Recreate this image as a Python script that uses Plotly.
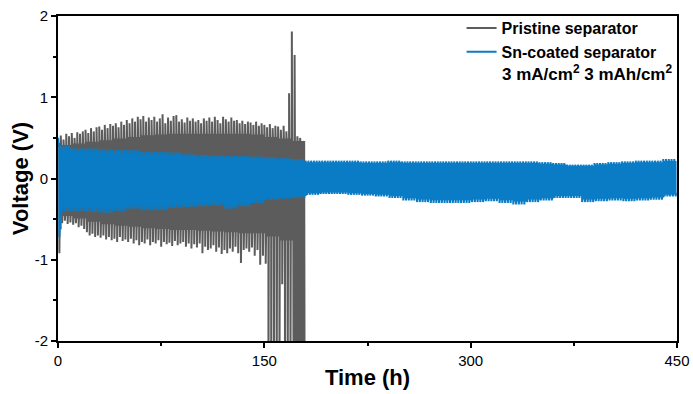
import numpy as np
import plotly.graph_objects as go

# ---------------- data ----------------
CYCLE_H = 2.0  # one charge + discharge cycle, hours

# Pristine separator: per-cycle peak voltages (cycle i starts at 2*i h)
pristine_up_peak = [
    0.50, 0.53, 0.48, 0.55, 0.52, 0.56, 0.50, 0.57, 0.55, 0.58,
    0.60, 0.56, 0.62, 0.58, 0.63, 0.64, 0.60, 0.66, 0.62, 0.67,
    0.65, 0.68, 0.63, 0.70, 0.66, 0.72, 0.68, 0.74, 0.70, 0.76,
    0.73, 0.77, 0.70, 0.75, 0.72, 0.76, 0.70, 0.74, 0.79, 0.68,
    0.75, 0.71, 0.77, 0.78, 0.70, 0.73, 0.69, 0.75, 0.71, 0.74,
    0.70, 0.72, 0.68, 0.74, 0.71, 0.75, 0.70, 0.76, 0.72, 0.68,
    0.76, 0.73, 0.70, 0.75, 0.71, 0.72, 0.68, 0.71, 0.67, 0.70,
    0.69, 0.66, 0.70, 0.65, 0.68, 0.66, 0.63, 0.67, 0.62, 0.65,
    0.64, 0.60, 0.65, 0.58, 1.05, 1.81, 1.52, 0.52, 0.50, 0.46,
]
pristine_dn_peak = [
    -0.92, -0.55, -0.52, -0.56, -0.54, -0.57, -0.55, -0.60, -0.58, -0.62,
    -0.66, -0.70, -0.68, -0.72, -0.70, -0.73, -0.70, -0.75, -0.72, -0.76,
    -0.74, -0.78, -0.72, -0.77, -0.75, -0.78, -0.74, -0.80, -0.76, -0.82,
    -0.78, -0.80, -0.75, -0.82, -0.78, -0.80, -0.76, -0.84, -0.78, -0.81,
    -0.79, -0.83, -0.77, -0.82, -0.80, -0.78, -0.84, -0.80, -0.86, -0.81,
    -0.85, -0.80, -0.92, -0.84, -0.88, -0.86, -0.82, -0.90, -0.85, -0.93,
    -0.88, -0.92, -0.86, -0.90, -0.84, -0.92, -1.04, -0.88, -0.86, -0.90,
    -0.85, -0.95, -0.88, -1.06, -0.95, -1.05, -2.50, -2.50, -2.50, -2.50,
    -2.50, -1.30, -2.50, -2.50, -2.50, -2.50, -2.50, -2.50, -2.50, -2.50,
]
# Pristine plateau levels, one value per 10 h block (0-170 h)
pristine_up_plateau = [0.40, 0.42, 0.44, 0.46, 0.48, 0.50, 0.52, 0.53, 0.54,
                       0.54, 0.54, 0.54, 0.54, 0.54, 0.53, 0.50, 0.48, 0.45]
pristine_dn_plateau = [-0.45, -0.48, -0.52, -0.55, -0.57, -0.58, -0.60, -0.61, -0.62,
                       -0.62, -0.63, -0.64, -0.65, -0.66, -0.66, -0.70, -0.75, -2.50]

# Sn-coated separator: peak voltages, one value per 10 h block (0-440 h)
sn_up_peak = [0.40, 0.37, 0.37, 0.36, 0.35, 0.35, 0.33, 0.33, 0.32, 0.30,
              0.29, 0.28, 0.28, 0.28, 0.27, 0.26, 0.25, 0.24, 0.22, 0.22,
              0.22, 0.22, 0.21, 0.21, 0.22, 0.21, 0.21, 0.21, 0.21, 0.21,
              0.21, 0.21, 0.21, 0.21, 0.21, 0.20, 0.19, 0.17, 0.17, 0.19,
              0.20, 0.21, 0.22, 0.22, 0.24]
sn_dn_peak = [-0.40, -0.40, -0.41, -0.42, -0.40, -0.37, -0.39, -0.39, -0.36, -0.35,
              -0.34, -0.33, -0.37, -0.34, -0.30, -0.26, -0.25, -0.24, -0.20, -0.19,
              -0.19, -0.20, -0.21, -0.22, -0.24, -0.27, -0.29, -0.30, -0.30, -0.30,
              -0.29, -0.28, -0.30, -0.32, -0.29, -0.27, -0.24, -0.24, -0.29, -0.28,
              -0.27, -0.28, -0.27, -0.26, -0.22]
sn_first_cycle = [0.50, -0.72]   # first-cycle overshoot
sn_plateau_ratio = 0.85

x_tickvals = [0, 150, 300, 450]
x_ticktext = ["0", "150", "300", "450"]
y_tickvals = [-2, -1, 0, 1, 2]
y_ticktext = ["-2", "-1", "0", "1", "2"]

# ---------------- build waveforms ----------------
def waveform(up_peak, up_plat, dn_peak, dn_plat):
    t, v = [], []
    for i in range(len(up_peak)):
        t0 = i * CYCLE_H
        t += [t0, t0 + 0.25, t0 + 0.95, t0 + 1.0, t0 + 1.25, t0 + 1.95]
        v += [up_peak[i], up_plat[i], up_plat[i], dn_peak[i], dn_plat[i], dn_plat[i]]
    return t, v

per_block = int(10 / CYCLE_H)
p_up_plat = np.minimum(np.repeat(pristine_up_plateau, per_block)[:len(pristine_up_peak)],
                       np.array(pristine_up_peak))
p_dn_plat = np.maximum(np.repeat(pristine_dn_plateau, per_block)[:len(pristine_dn_peak)],
                       np.array(pristine_dn_peak))
p_t, p_v = waveform(pristine_up_peak, p_up_plat, pristine_dn_peak, p_dn_plat)

s_up = np.repeat(sn_up_peak, per_block).astype(float)
s_dn = np.repeat(sn_dn_peak, per_block).astype(float)
s_up[0], s_dn[0] = sn_first_cycle
s_t, s_v = waveform(s_up, s_up * sn_plateau_ratio, s_dn, s_dn * sn_plateau_ratio)

GRAY = "#5c5c5c"
BLUE = "#0a7cc6"
FONT = "Liberation Sans, Arial, sans-serif"

fig = go.Figure()
fig.add_trace(go.Scatter(x=p_t, y=p_v, mode="lines", name="<b>Pristine separator</b>",
                         line=dict(color=GRAY, width=2)))
fig.add_trace(go.Scatter(x=s_t, y=s_v, mode="lines", name="<b>Sn-coated separator</b>",
                         line=dict(color=BLUE, width=2)))

axis_common = dict(showline=True, linecolor="black", linewidth=2, mirror=True,
                   ticks="outside", ticklen=5, tickwidth=2, tickcolor="black",
                   showgrid=False, zeroline=False, automargin=False,
                   tickfont=dict(family=FONT, size=15, color="black"))

fig.update_xaxes(range=[0, 450], tickvals=x_tickvals, ticktext=x_ticktext,
                 minor=dict(tickvals=[75, 225, 375], ticklen=3, tickwidth=2, ticks="outside",
                            tickcolor="black"),
                 title=dict(text="<b>Time (h)</b>", font=dict(family=FONT, size=22, color="black"),
                            standoff=2),
                 **axis_common)
fig.update_yaxes(range=[-2, 2], tickvals=y_tickvals, ticktext=y_ticktext,
                 minor=dict(tickvals=[-1.5, -0.5, 0.5, 1.5], ticklen=3, tickwidth=2,
                            ticks="outside", tickcolor="black"),
                 title=dict(text="<b>Voltage (V)</b>", font=dict(family=FONT, size=22, color="black"),
                            standoff=0),
                 **axis_common)

fig.add_annotation(text="<b>3 mA/cm<sup>2</sup> 3 mAh/cm<sup>2</sup></b>",
                   xref="paper", yref="paper", x=0.995, y=0.824, xanchor="right", yanchor="middle",
                   showarrow=False, font=dict(family=FONT, size=17, color="black"))

fig.update_layout(
    width=693, height=394,
    margin=dict(l=58, r=16, t=16, b=53, autoexpand=False),
    paper_bgcolor="white", plot_bgcolor="white",
    legend=dict(x=0.652, y=1.015, xanchor="left", yanchor="top",
                font=dict(family=FONT, size=16, color="black"),
                bgcolor="rgba(0,0,0,0)", tracegroupgap=0, itemwidth=30),
    showlegend=True,
)

fig.write_html("out.html", config={"displayModeBar": False},
               post_script="document.body.style.margin='0';document.body.style.padding='0';")
